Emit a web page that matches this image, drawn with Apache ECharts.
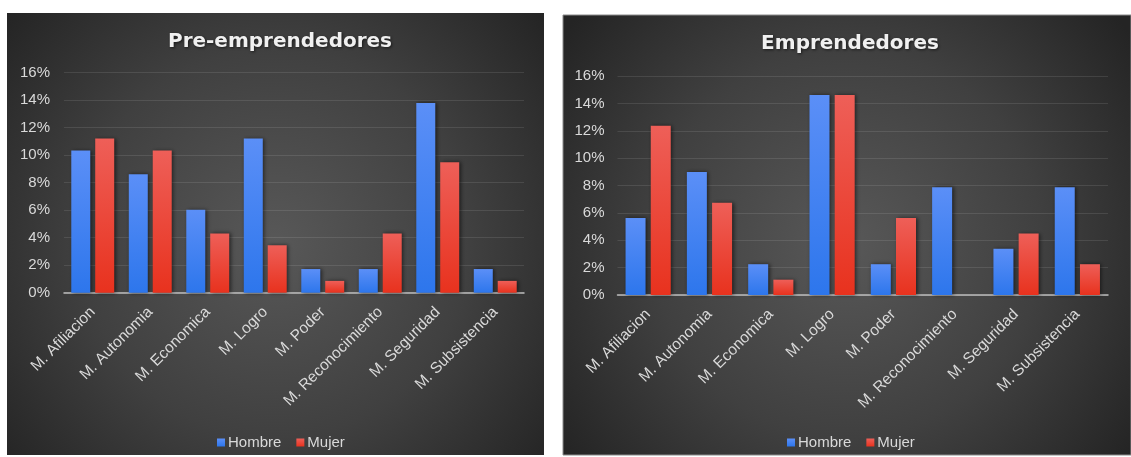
<!DOCTYPE html>
<html>
<head>
<meta charset="utf-8">
<script src="https://cdn.jsdelivr.net/npm/echarts@6/dist/echarts.min.js"></script>
<style>
html,body{margin:0;padding:0;background:#fff;}
#chart{width:1131px;height:457px;}
</style>
</head>
<body>
<div id="chart"></div>
<script>
const categories = ['M. Afiliacion','M. Autonomia','M. Economica','M. Logro','M. Poder','M. Reconocimiento','M. Seguridad','M. Subsistencia'];
const seriesNames = ['Hombre','Mujer'];
const titles = ['Pre-emprendedores','Emprendedores'];
const preHombre = [10.34, 8.62, 6.03, 11.21, 1.72, 1.72, 13.79, 1.72];
const preMujer  = [11.21, 10.34, 4.31, 3.45, 0.86, 4.31, 9.48, 0.86];
const empHombre = [5.62, 8.99, 2.25, 14.61, 2.25, 7.87, 3.37, 7.87];
const empMujer  = [12.36, 6.74, 1.12, 14.61, 5.62, 0, 4.49, 2.25];

const FONT = '"Liberation Sans", Arial, sans-serif';
const chart = echarts.init(document.getElementById('chart'), null, {renderer:'canvas'});

function bgRect(x,y,w,h,stroke){
  return {type:'rect', z:-10, silent:true, shape:{x:x,y:y,width:w,height:h},
    style:{fill:new echarts.graphic.RadialGradient(0.5,0.52,0.8,[{offset:0,color:'#585858'},{offset:0.55,color:'#404040'},{offset:1,color:'#242424'}]),
      stroke:stroke||null, lineWidth:stroke?1:0}};
}
const blueGrad = new echarts.graphic.LinearGradient(0,0,0,1,[{offset:0,color:'#5b8ff7'},{offset:1,color:'#2d76ec'}]);
const redGrad = new echarts.graphic.LinearGradient(0,0,0,1,[{offset:0,color:'#ee5f58'},{offset:1,color:'#e8321e'}]);
const barShadow = {shadowColor:'rgba(0,0,0,0.55)', shadowBlur:4, shadowOffsetX:1.5, shadowOffsetY:0};

function xAxis(i){
  return {type:'category', gridIndex:i, data:categories,
    axisLine:{lineStyle:{color:'#bdbdbd', width:1.5}}, axisTick:{show:false},
    axisLabel:{rotate:45, interval:0, margin:17, color:'#d9d9d9', fontSize:15.5, fontFamily:FONT}};
}
function yAxis(i, margin){
  return {type:'value', gridIndex:i, min:0, max:16, interval:2,
    axisLine:{show:false}, axisTick:{show:false},
    splitLine:{lineStyle:{color:'rgba(255,255,255,0.1)', width:1}},
    axisLabel:{formatter:'{value}%', color:'#d9d9d9', fontSize:15, fontFamily:FONT, margin:margin}};
}
function bar(name, data, i, color, w){
  return {type:'bar', name:name, xAxisIndex:i, yAxisIndex:i, data:data, barWidth:w, barGap:'26%',
    itemStyle:Object.assign({color:color}, barShadow)};
}
function legend(left){
  return {data:seriesNames, left:left, top:430, icon:'rect', itemWidth:8, itemHeight:8, itemGap:15,
    textStyle:{color:'#d9d9d9', fontSize:15, fontFamily:FONT, padding:[0,0,0,-2]}};
}
function title(text, cx, top){
  return {text:text, left:cx, top:top, textAlign:'center',
    textStyle:{color:'#f0f0f0', fontSize:20, fontWeight:'bold', fontFamily:'"DejaVu Sans", sans-serif',
      textShadowColor:'rgba(0,0,0,0.6)', textShadowBlur:3, textShadowOffsetX:1, textShadowOffsetY:1}};
}

chart.setOption({
  backgroundColor:'#ffffff',
  animation:false,
  graphic:[bgRect(7,13,537,442,null), bgRect(563,15,568,440,'#8a8a8a')],
  title:[title(titles[0], 275, 27), title(titles[1], 845, 29)],
  legend:[legend(212), legend(782)],
  grid:[
    {left:64, top:72.7, width:460, height:220},
    {left:617.5, top:76, width:490.5, height:219}
  ],
  xAxis:[xAxis(0), xAxis(1)],
  yAxis:[yAxis(0,14), yAxis(1,13)],
  series:[
    bar(seriesNames[0], preHombre, 0, blueGrad, 19),
    bar(seriesNames[1], preMujer, 0, redGrad, 19),
    bar(seriesNames[0], empHombre, 1, blueGrad, 20),
    bar(seriesNames[1], empMujer, 1, redGrad, 20)
  ]
});
</script>
</body>
</html>
